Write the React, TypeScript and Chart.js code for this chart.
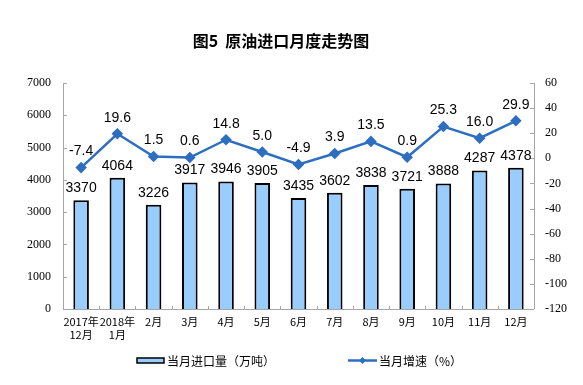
import React, { useEffect, useRef } from "react";
import { Chart, registerables } from "chart.js";

Chart.register(...registerables);

const categories: (string | string[])[] = [
  ["2017年", "12月"], ["2018年", "1月"], "2月", "3月", "4月", "5月", "6月", "7月", "8月", "9月", "10月", "11月", "12月",
];
const importVolume = [3370, 4064, 3226, 3917, 3946, 3905, 3435, 3602, 3838, 3721, 3888, 4287, 4378];
const growthRate = [-7.4, 19.6, 1.5, 0.6, 14.8, 5.0, -4.9, 3.9, 13.5, 0.9, 25.3, 16.0, 29.9];
const titleText = "图5  原油进口月度走势图";
const barLegend = "当月进口量（万吨）";
const lineLegend = "当月增速（%）";

const LINE_COLOR = "#2d6ec0";
const BAR_COLOR = "#99ccff";
const SANS = "Arial, 'Liberation Sans', 'Noto Sans CJK SC', sans-serif";
const CJK = "'Noto Sans CJK SC', sans-serif";
const SERIF = "'Times New Roman', 'Liberation Serif', serif";

const decorPlugin = {
  id: "decor",
  afterDraw(chart: any) {
    const ctx = chart.ctx as CanvasRenderingContext2D;
    const area = chart.chartArea;
    const yL = chart.scales.y;
    const yR = chart.scales.y1;
    ctx.save();
    ctx.strokeStyle = "#a6a6a6";
    ctx.lineWidth = 1;
    ctx.beginPath();
    ctx.moveTo(Math.round(area.left) + 0.5, area.top);
    ctx.lineTo(Math.round(area.left) + 0.5, area.bottom);
    ctx.moveTo(Math.round(area.right) + 0.5, area.top);
    ctx.lineTo(Math.round(area.right) + 0.5, area.bottom);
    ctx.moveTo(area.left, Math.round(area.bottom) + 0.5);
    ctx.lineTo(area.right, Math.round(area.bottom) + 0.5);
    yL.ticks.forEach((t: any) => {
      const py = Math.round(yL.getPixelForValue(t.value)) + 0.5;
      ctx.moveTo(area.left, py);
      ctx.lineTo(area.left + 4, py);
    });
    yR.ticks.forEach((t: any) => {
      const py = Math.round(yR.getPixelForValue(t.value)) + 0.5;
      ctx.moveTo(area.right - 4, py);
      ctx.lineTo(area.right, py);
    });
    const n = categories.length;
    const w = (area.right - area.left) / n;
    for (let i = 1; i < n; i++) {
      const px = Math.round(area.left + w * i) + 0.5;
      ctx.moveTo(px, area.bottom);
      ctx.lineTo(px, area.bottom - 3);
    }
    ctx.stroke();

    ctx.fillStyle = "#000";
    ctx.font = `14px ${SANS}`;
    ctx.textAlign = "center";
    ctx.textBaseline = "bottom";
    const barMeta = chart.getDatasetMeta(0);
    barMeta.data.forEach((el: any, i: number) => {
      ctx.fillText(String(importVolume[i]), el.x, el.y - 5);
    });
    const lineMeta = chart.getDatasetMeta(1);
    lineMeta.data.forEach((el: any, i: number) => {
      ctx.fillText(growthRate[i].toFixed(1), el.x, el.y - 9);
    });

    ctx.font = `bold 16px ${CJK}`;
    ctx.textBaseline = "middle";
    ctx.fillText(titleText, 281, 41);

    ctx.textAlign = "left";
    ctx.font = `12px ${CJK}`;
    ctx.fillStyle = BAR_COLOR;
    ctx.fillRect(137, 358, 27, 5);
    ctx.strokeStyle = "#000";
    ctx.lineWidth = 1.5;
    ctx.strokeRect(137, 358, 27, 5);
    ctx.fillStyle = "#000";
    ctx.fillText(barLegend, 167, 361);

    ctx.strokeStyle = LINE_COLOR;
    ctx.lineWidth = 2.5;
    ctx.beginPath();
    ctx.moveTo(348, 360.5);
    ctx.lineTo(377, 360.5);
    ctx.stroke();
    ctx.fillStyle = LINE_COLOR;
    ctx.beginPath();
    ctx.moveTo(362.5, 357);
    ctx.lineTo(366, 360.5);
    ctx.lineTo(362.5, 364);
    ctx.lineTo(359, 360.5);
    ctx.closePath();
    ctx.fill();
    ctx.fillStyle = "#000";
    ctx.fillText(lineLegend, 379, 361);
    ctx.restore();
  },
};

export default function App() {
  const ref = useRef<HTMLCanvasElement>(null);
  useEffect(() => {
    document.body.style.margin = "0";
    const chart = new Chart(ref.current as HTMLCanvasElement, {
      type: "bar",
      data: {
        labels: categories,
        datasets: [
          {
            type: "bar",
            label: barLegend,
            data: importVolume,
            backgroundColor: BAR_COLOR,
            borderColor: "#000",
            borderWidth: 2,
            barPercentage: 0.43,
            categoryPercentage: 1,
            yAxisID: "y",
            order: 2,
          },
          {
            type: "line",
            label: lineLegend,
            data: growthRate,
            borderColor: LINE_COLOR,
            backgroundColor: LINE_COLOR,
            borderWidth: 2.5,
            pointStyle: "rectRot",
            pointRadius: 4,
            pointHoverRadius: 4,
            tension: 0,
            yAxisID: "y1",
            order: 1,
          },
        ],
      },
      options: {
        animation: false,
        responsive: false,
        layout: { padding: { top: 83, left: 0, right: 0, bottom: 0 } },
        plugins: {
          legend: { display: false },
          title: { display: false },
          tooltip: { enabled: false },
        },
        scales: {
          x: {
            grid: { display: false, drawTicks: false },
            border: { display: false },
            ticks: {
              color: "#000",
              font: { family: CJK, size: 11 },
              padding: 6,
              maxRotation: 0,
              autoSkip: false,
            },
            afterFit: (s: any) => { s.height = 76; },
          },
          y: {
            position: "left",
            min: 0,
            max: 7000,
            grid: { display: false, drawTicks: false },
            border: { display: false },
            ticks: {
              stepSize: 1000,
              color: "#000",
              font: { family: SERIF, size: 12 },
              padding: 12,
              callback: (v: any) => String(v),
            },
            afterFit: (s: any) => { s.width = 63; },
          },
          y1: {
            position: "right",
            min: -120,
            max: 60,
            grid: { display: false, drawTicks: false },
            border: { display: false },
            ticks: {
              stepSize: 20,
              color: "#000",
              font: { family: SERIF, size: 12 },
              padding: 11,
              callback: (v: any) => String(v),
            },
            afterFit: (s: any) => { s.width = 49; },
          },
        },
      },
      plugins: [decorPlugin],
    } as any);
    return () => chart.destroy();
  }, []);
  return <canvas ref={ref} width={583} height={385} style={{ display: "block" }} />;
}
